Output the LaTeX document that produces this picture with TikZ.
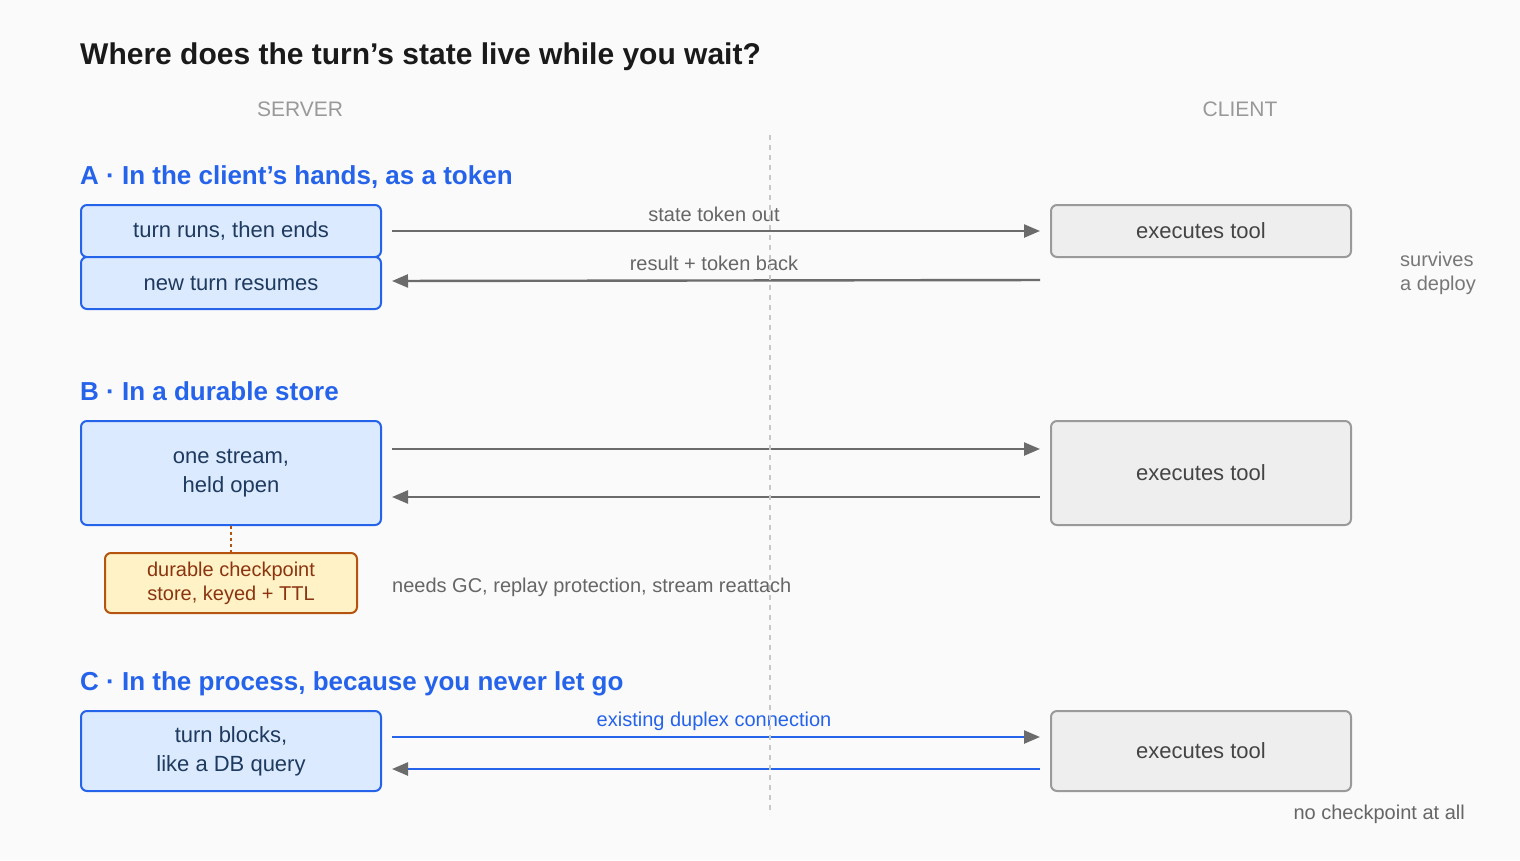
\documentclass[tikz,border=0pt]{standalone}
\usepackage{fontspec}
\setmainfont{Liberation Sans}
\usetikzlibrary{arrows.meta}
\definecolor{bg}{HTML}{FAFAFA}
\definecolor{titlec}{HTML}{1A1A1A}
\definecolor{headc}{HTML}{2563EB}
\definecolor{sidec}{HTML}{999999}
\definecolor{blueF}{HTML}{DBEAFE}
\definecolor{blueB}{HTML}{2563EB}
\definecolor{navy}{HTML}{1E3A5F}
\definecolor{grayF}{HTML}{EEEEEE}
\definecolor{grayB}{HTML}{9A9A9A}
\definecolor{grayT}{HTML}{444444}
\definecolor{arrc}{HTML}{6B6B6B}
\definecolor{labc}{HTML}{666666}
\definecolor{notec}{HTML}{777777}
\definecolor{ckF}{HTML}{FFF2C6}
\definecolor{ckB}{HTML}{B4540F}
\definecolor{ckT}{HTML}{8B3510}
\definecolor{divc}{HTML}{C8C8C8}
\newcommand\fsz[2]{\fontsize{#1}{#2}\selectfont}
\begin{document}
\begin{tikzpicture}[x=1pt,y=-1pt,
  srv/.style={draw=blueB, fill=blueF, line width=2pt, rounded corners=6pt, text=navy,
    font=\fsz{22}{30}, align=center, minimum width=300pt, anchor=north west, inner sep=0pt},
  cli/.style={draw=grayB, fill=grayF, line width=2pt, rounded corners=6pt, text=grayT,
    font=\fsz{22}{30}, align=center, minimum width=300pt, anchor=north west, inner sep=0pt},
  ckbox/.style={draw=ckB, fill=ckF, line width=2pt, rounded corners=6pt, text=ckT,
    font=\fsz{20}{24}, align=center, minimum width=252pt, minimum height=60pt, anchor=north west, inner sep=0pt},
  head/.style={anchor=base west, text=headc, font=\fsz{26}{30}\bfseries, inner sep=0pt},
  side/.style={anchor=base, text=sidec, font=\fsz{21}{24}, inner sep=0pt},
  lab/.style={anchor=base, text=labc, font=\fsz{20}{24}, inner sep=0pt},
  note/.style={text=notec, font=\fsz{20}{24}, inner sep=0pt, align=left},
  arr/.style={draw=arrc, line width=2.4pt, -{Triangle[length=16pt,width=13pt]}, shorten <=10pt, shorten >=10pt},
  barr/.style={draw=blueB, line width=2.4pt, -{Triangle[length=16pt,width=13pt,color=arrc]}, shorten <=10pt, shorten >=10pt},
]
\fill[bg] (0,0) rectangle (1520,860);
\useasboundingbox (0,0) rectangle (1520,860);

% title
\node[anchor=base west, text=titlec, font=\fsz{30}{34}\bfseries, inner sep=0pt] (title) at (80,64) {Where does the turn’s state live while you wait?};
\node[side] (server) at (300,116) {SERVER};
\node[side] (client) at (1240,116) {CLIENT};

% ---------- A
\node[head] (ha) at (80,184) {A · In the client’s hands, as a token};
\node[srv, minimum height=52pt] (a1) at (80,204) {turn runs, then ends};
\node[srv, minimum height=52pt] (a2) at (80,256) {new turn resumes};
\node[cli, minimum height=52pt] (ga) at (1050,204) {executes tool};
\coordinate (gaback) at (1050,280);
\draw[arr] (a1.east) -- (ga.west);
\draw[arr] (gaback) -- ([yshift=2pt]a2.east);
\node[lab] (la1) at (714,221) {state token out};
\node[lab] (la2) at (714,270) {result + token back};
\node[note, anchor=base west] (na) at (1400,266) {survives};
\node[note, anchor=base west] (na2) at (1400,290) {a deploy};

% ---------- B
\node[head] (hb) at (80,400) {B · In a durable store};
\node[srv, minimum height=104pt] (b) at (80,420) {\raisebox{-2pt}{\shortstack{one stream,\\[7pt]held open}}};
\node[cli, minimum height=104pt] (gb) at (1050,420) {executes tool};
\draw[arr] ([yshift=24pt]b.east) -- ([yshift=24pt]gb.west);
\draw[arr] ([yshift=-24pt]gb.west) -- ([yshift=-24pt]b.east);
\node[ckbox] (ck) at (104,552) {durable checkpoint\\store, keyed + TTL};
\draw[ckB, line width=2pt, dash pattern=on 3pt off 3pt] (b.south) -- (ck.north);
\node[note, text=labc, anchor=base west] (nb) at (392,592) {needs GC, replay protection, stream reattach};

% ---------- C
\node[head] (hc) at (80,690) {C · In the process, because you never let go};
\node[srv, minimum height=80pt] (c) at (80,710) {\raisebox{-2pt}{\shortstack{turn blocks,\\[7pt]like a DB query}}};
\node[cli, minimum height=80pt] (gc) at (1050,710) {executes tool};
\draw[barr] ([yshift=14pt]c.east) -- ([yshift=14pt]gc.west);
\draw[barr] ([yshift=-18pt]gc.west) -- ([yshift=-18pt]c.east);
\node[lab, text=headc] (lc) at (714,726) {existing duplex connection};
\node[note, text=labc, anchor=base east] (nc) at (1465,819) {no checkpoint at all};

% divider
\coordinate (divtop) at (770,135);
\coordinate (divbot) at (770,815);
\draw[divc, line width=1.5pt, dash pattern=on 5pt off 5pt] (divtop) -- (divbot);
\end{tikzpicture}
\end{document}
